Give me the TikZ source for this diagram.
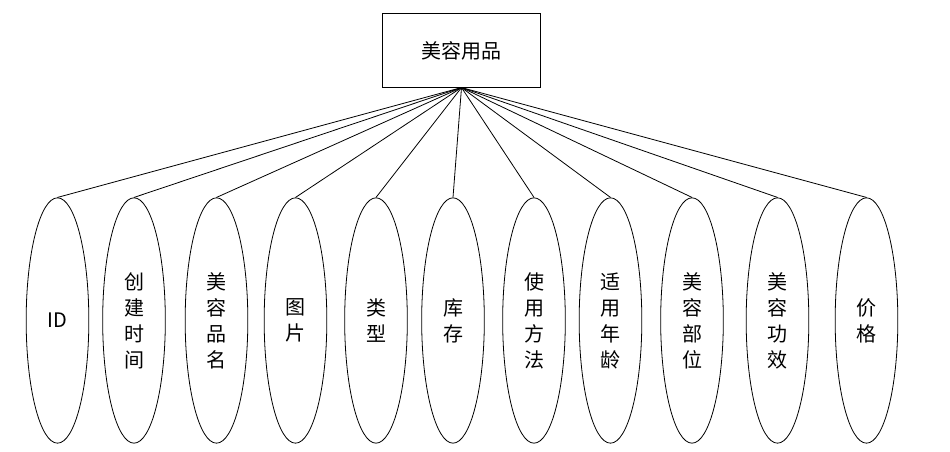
\documentclass[tikz,border=0pt]{standalone}
\usepackage{fontspec}
\usepackage{tikz}
\usetikzlibrary{shapes,positioning}
\newfontfamily\cjkfont{Noto Sans CJK SC}

\begin{document}
\begin{tikzpicture}[
    x=0.75pt, y=-0.75pt,
    every node/.style={align=center, font=\cjkfont\fontsize{15}{19.5}\selectfont},
    entity/.style={rectangle, draw=black, minimum width=119pt, minimum height=55pt, inner sep=0pt, line width=0.6pt},
    attrib/.style={ellipse, draw=black, minimum width=47pt, minimum height=184pt, inner sep=0pt, line width=0.6pt},
    link/.style={line width=0.6pt}
]
\useasboundingbox (0,0) rectangle (950,452);

% Entity
\node[entity] (product) at (461.5,50.5) {美容用品};
\coordinate (hub) at (product.south);

% Attributes
\node[attrib] (id) at (57.5,320.5) {ID};
\node[attrib] (created) at (134,320.5) {创\\建\\时\\间};
\node[attrib] (name) at (216.5,320.5) {美\\容\\品\\名};
\node[attrib] (image) at (295.5,320.5) {图\\片};
\node[attrib] (category) at (376,320.5) {类\\型};
\node[attrib] (stock) at (453,320.5) {库\\存};
\node[attrib] (usage) at (534,320.5) {使\\用\\方\\法};
\node[attrib] (agerange) at (610.5,320.5) {适\\用\\年\\龄};
\node[attrib] (bodypart) at (692,320.5) {美\\容\\部\\位};
\node[attrib] (effect) at (777.5,320.5) {美\\容\\功\\效};
\node[attrib] (price) at (866.5,320.5) {价\\格};

% Connections
\draw[link] (hub) -- (id.north);
\draw[link] (hub) -- (created.north);
\draw[link] (hub) -- (name.north);
\draw[link] (hub) -- (image.north);
\draw[link] (hub) -- (category.north);
\draw[link] (hub) -- (stock.north);
\draw[link] (hub) -- (usage.north);
\draw[link] (hub) -- (agerange.north);
\draw[link] (hub) -- (bodypart.north);
\draw[link] (hub) -- (effect.north);
\draw[link] (hub) -- (price.north);

\end{tikzpicture}
\end{document}
